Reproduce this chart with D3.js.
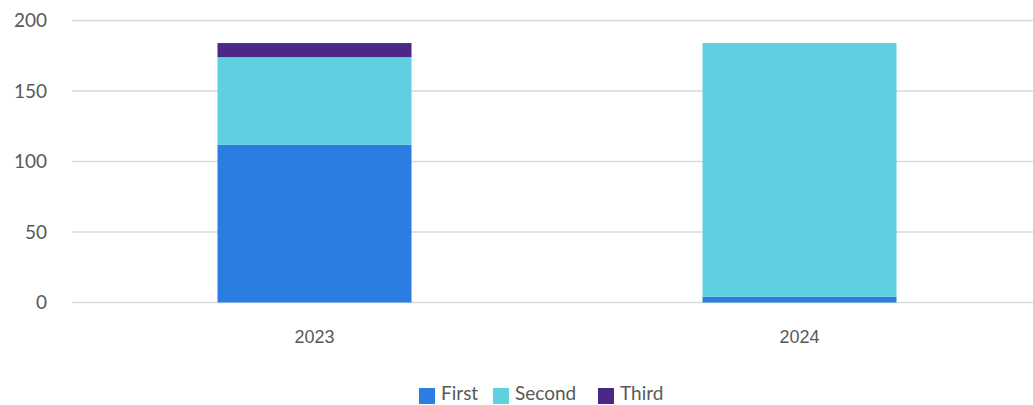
<!DOCTYPE html>
<html>
<head>
<meta charset="utf-8">
<script src="https://cdn.jsdelivr.net/npm/d3@7"></script>
<style>
  body { margin: 0; background: #fff; }
</style>
</head>
<body>
<div id="chart"></div>
<script>
const years = ["2023", "2024"];
const seriesNames = ["First", "Second", "Third"];
const firstValues = [112, 4];
const secondValues = [62, 180];
const thirdValues = [10, 0];
const yTicks = [0, 50, 100, 150, 200];
const colors = ["#2b7de1", "#5fd0df", "#4b2886"];

const width = 1033;
const height = 405;

const svg = d3.select("#chart").append("svg")
  .attr("width", width)
  .attr("height", height);

// table for the stack
const table = years.map((yr, i) => ({
  year: yr,
  First: firstValues[i],
  Second: secondValues[i],
  Third: thirdValues[i]
}));

const stacked = d3.stack().keys(seriesNames)(table);

const x = d3.scaleBand()
  .domain(years)
  .range([72, 1042])
  .paddingInner(0.6)
  .paddingOuter(0.3);

const y = d3.scaleLinear()
  .domain([0, 200])
  .range([302.5, 20.5]);

// gridlines
svg.append("g")
  .selectAll("line")
  .data(yTicks)
  .enter()
  .append("line")
  .attr("x1", 72)
  .attr("x2", width)
  .attr("y1", d => y(d))
  .attr("y2", d => y(d))
  .attr("stroke", "#d9d9d9")
  .attr("stroke-width", 1.5);

// y labels
svg.append("g")
  .selectAll("text")
  .data(yTicks)
  .enter()
  .append("text")
  .attr("x", 47)
  .attr("y", d => y(d))
  .attr("dy", "0.36em")
  .attr("text-anchor", "end")
  .style("font-family", "Lato, 'Liberation Sans', sans-serif")
  .style("font-size", "19px")
  .style("fill", "#595959")
  .text(d => d);

// bars
svg.append("g")
  .selectAll("g")
  .data(stacked)
  .enter()
  .append("g")
  .attr("fill", (d, i) => colors[i])
  .selectAll("rect")
  .data(d => d)
  .enter()
  .append("rect")
  .attr("x", d => x(d.data.year))
  .attr("width", x.bandwidth())
  .attr("y", d => y(d[1]))
  .attr("height", d => y(d[0]) - y(d[1]));

// x labels
svg.append("g")
  .selectAll("text")
  .data(years)
  .enter()
  .append("text")
  .attr("x", d => x(d) + x.bandwidth() / 2)
  .attr("y", 343)
  .attr("text-anchor", "middle")
  .style("font-family", "'Liberation Sans', Arial, sans-serif")
  .style("font-size", "18px")
  .style("fill", "#595959")
  .text(d => d);

// legend
const legendX = [419, 493, 598];
const legend = svg.append("g")
  .selectAll("g")
  .data(seriesNames)
  .enter()
  .append("g")
  .attr("transform", (d, i) => `translate(${legendX[i]},388)`);

legend.append("rect")
  .attr("width", 16)
  .attr("height", 16)
  .attr("fill", (d, i) => colors[i]);

legend.append("text")
  .attr("x", 22)
  .attr("y", 12)
  .style("font-family", "Lato, sans-serif")
  .style("font-size", "19px")
  .style("fill", "#595959")
  .text(d => d);
</script>
</body>
</html>
